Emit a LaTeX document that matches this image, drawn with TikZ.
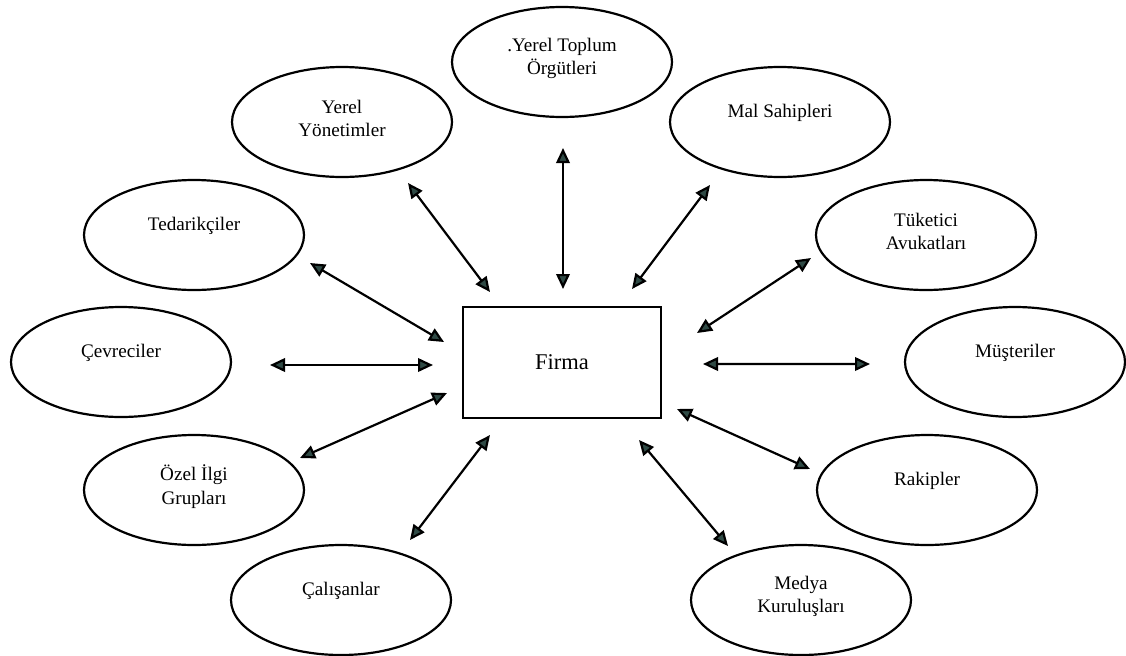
\documentclass[tikz,border=0pt]{standalone}
\usepackage{fontspec}
\setmainfont{Liberation Serif}
\usetikzlibrary{calc}
\usetikzlibrary{shapes.geometric}
\usetikzlibrary{arrows.meta}
\definecolor{tipfill}{HTML}{2F4A45}
\tikzset{
    % Filled triangular heads, dark green inside a black rim
    >={Triangle[length=3mm, width=2.7mm, fill=tipfill]},
%
    % One ellipse for each group of stakeholders
    stakeholder/.style={
        draw, ellipse, inner sep=0,
        minimum width=44mm, minimum height=22mm},
%
    % Names sit a little above the middle of their ellipse
    one line/.style={font=\fontsize{10.9}{13.3}\selectfont, yshift=1.9mm},
    two lines/.style={align=center, font=\fontsize{10.9}{13.3}\selectfont,
        yshift=0.7mm},
%
    % The firm itself
    firm box/.style={
        draw, rectangle, inner sep=0,
        minimum width=39.6mm, minimum height=22.2mm,
        font=\fontsize{12.8}{15}\selectfont}}

\begin{document}
\begin{tikzpicture}[line width=1.25pt]

% Keep the page the size of the scanned figure
\useasboundingbox (0,0) rectangle (225.2mm,-131mm);

% The firm in the middle
\path node[firm box] (firma) at (112.4mm,-72.5mm) {Firma};

% Stakeholders on the upper half
\path
    node[stakeholder,
        label={[two lines, name=toplum text]center:.Yerel Toplum\\Örgütleri}]
        (toplum) at (112.4mm,-12.4mm) {}
    node[stakeholder,
        label={[two lines, name=yonetim text]center:Yerel\\Yönetimler}]
        (yonetim) at (68.4mm,-24.4mm) {}
    node[stakeholder,
        label={[one line, name=mal text]center:Mal Sahipleri}]
        (mal sahipleri) at (156mm,-24.4mm) {}
    node[stakeholder,
        label={[one line, name=tedarik text]center:Tedarikçiler}]
        (tedarik) at (38.8mm,-47mm) {}
    node[stakeholder,
        label={[two lines, name=tuketici text]center:Tüketici\\Avukatları}]
        (tuketici) at (185.2mm,-47mm) {};

% Stakeholders level with the firm
\path
    node[stakeholder,
        label={[one line, name=cevre text]center:Çevreciler}]
        (cevre) at (24.2mm,-72.4mm) {}
    node[stakeholder,
        label={[one line, name=musteri text]center:Müşteriler}]
        (musteri) at (203mm,-72.4mm) {};

% Stakeholders on the lower half
\path
    node[stakeholder,
        label={[two lines, name=ozel text]center:Özel İlgi\\Grupları}]
        (ozel ilgi) at (38.8mm,-98mm) {}
    node[stakeholder,
        label={[one line, name=rakip text]center:Rakipler}]
        (rakip) at (185.4mm,-98mm) {}
    node[stakeholder,
        label={[one line, name=calisan text]center:Çalışanlar}]
        (calisan) at (68.2mm,-120mm) {}
    node[stakeholder,
        label={[two lines, name=medya text]center:Medya\\Kuruluşları}]
        (medya) at (160.2mm,-120mm) {};

% Two-way links between the firm and every group
\draw[<->] ($(firma)+(0.2mm,14.7mm)$) -- ($(toplum)+(0.2mm,-17.2mm)$);
\draw[<->] ($(firma)+(-14.4mm,14.1mm)$) -- ($(yonetim)+(13.2mm,-12.2mm)$);
\draw[<->] ($(firma)+(14mm,14.7mm)$) -- ($(mal sahipleri)+(-14mm,-12.6mm)$);
\draw[<->] ($(firma)+(-23.6mm,4.1mm)$) -- ($(tedarik)+(23.2mm,-5.6mm)$);
\draw[<->] ($(firma)+(27mm,5.9mm)$) -- ($(tuketici)+(-23mm,-4.6mm)$);
\draw[<->] ($(firma)+(-25.8mm,-0.5mm)$) -- ($(cevre)+(29.8mm,-0.6mm)$);
\draw[<->] ($(firma)+(28.2mm,-0.3mm)$) -- ($(musteri)+(-29mm,-0.4mm)$);
\draw[<->] ($(firma)+(-23mm,-6.1mm)$) -- ($(ozel ilgi)+(21.2mm,6.4mm)$);
\draw[<->] ($(firma)+(23mm,-9.3mm)$) -- ($(rakip)+(-23.4mm,4.2mm)$);
\draw[<->] ($(firma)+(-14.4mm,-14.5mm)$) -- ($(calisan)+(13.8mm,12mm)$);
\draw[<->] ($(firma)+(15.4mm,-15.5mm)$) -- ($(medya)+(-14.6mm,10.8mm)$);

\end{tikzpicture}
\end{document}
